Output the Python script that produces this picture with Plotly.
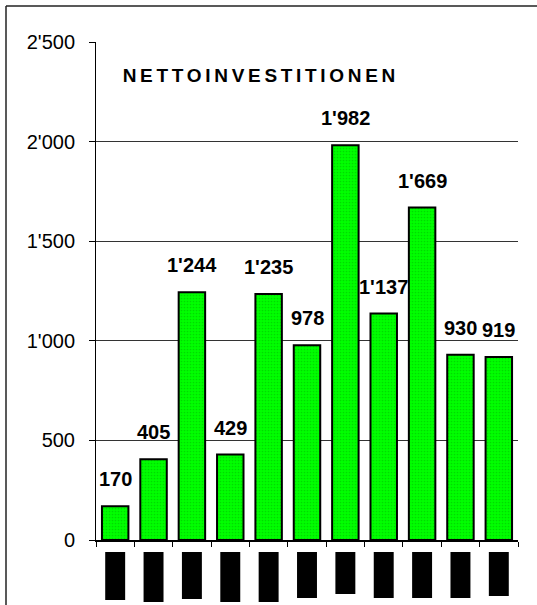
import plotly.graph_objects as go

# ---- data ----
categories = ["K1", "K2", "K3", "K4", "K5", "K6", "K7", "K8", "K9", "K10", "K11"]
values = [170, 405, 1244, 429, 1235, 978, 1982, 1137, 1669, 930, 919]
tick_values = [0, 500, 1000, 1500, 2000, 2500]
tick_labels = ["0", "500", "1'000", "1'500", "2'000", "2'500"]
title_text = "NETTOINVESTITIONEN"

# ---- layout geometry (pixels) ----
W, H = 537, 605
L, R, T, B = 96, 19, 42, 65
plot_w = W - L - R
plot_h = H - T - B
# redaction blocks below the category axis (bottom edge in px)
redaction_bottom_px = [600, 602, 599, 602, 602, 598, 594, 598, 598, 598, 596]
redaction_top_px = 552

def py_to_paper(py):
    return (H - B - py) / plot_h

def px_to_paper(px):
    return (px - L) / plot_w

def fmt(v):
    return f"{v:,}".replace(",", "'")

fig = go.Figure()
fig.add_trace(go.Bar(
    x=categories, y=values,
    marker=dict(
        color="#00F000",
        line=dict(color="black", width=2),
        pattern=dict(shape=".", fgcolor="#00B800", bgcolor="#00FF00", size=3, solidity=0.25),
    ),
    hoverinfo="skip",
))

annotations = []
for i, v in enumerate(values):
    annotations.append(dict(
        x=i, y=v, text=fmt(v), showarrow=False, xanchor="center", yanchor="bottom",
        yshift=14, font=dict(family="Liberation Sans, Arial", size=20, color="black", weight="bold"),
    ))
annotations.append(dict(
    x=px_to_paper(261), y=py_to_paper(75), xref="paper", yref="paper",
    text=title_text, showarrow=False, xanchor="center", yanchor="middle",
    font=dict(family="Liberation Sans, Arial", size=19, color="black", weight="bold"),
))

shapes = []
for i, bot in enumerate(redaction_bottom_px):
    shapes.append(dict(
        type="rect", xref="x", yref="paper",
        x0=i - 0.26, x1=i + 0.26,
        y0=py_to_paper(bot), y1=py_to_paper(redaction_top_px),
        fillcolor="black", line=dict(width=0), layer="above",
    ))
# outer frame (top and left edges visible)
shapes.append(dict(type="line", xref="paper", yref="paper",
                   x0=px_to_paper(6), x1=px_to_paper(540), y0=py_to_paper(6), y1=py_to_paper(6),
                   line=dict(color="#222", width=1.5)))
shapes.append(dict(type="line", xref="paper", yref="paper",
                   x0=px_to_paper(6), x1=px_to_paper(6), y0=py_to_paper(6), y1=py_to_paper(610),
                   line=dict(color="#222", width=1.5)))

fig.update_layout(
    width=W, height=H,
    margin=dict(l=L, r=R, t=T, b=B, pad=0),
    paper_bgcolor="white", plot_bgcolor="white",
    bargap=0.31,
    showlegend=False,
    annotations=annotations,
    shapes=shapes,
    font=dict(family="Liberation Sans, Arial", color="black"),
)
fig.update_yaxes(
    range=[0, 2500], tickvals=tick_values, ticktext=tick_labels,
    ticks="outside", ticklen=6, tickcolor="black", tickwidth=1,
    showgrid=True, gridcolor="#333", gridwidth=1,
    showline=True, linecolor="black", linewidth=1,
    zeroline=False, ticklabelstandoff=10,
    tickfont=dict(size=20, family="Liberation Sans, Arial", color="black"),
)
fig.update_xaxes(
    type="category", range=[-0.5, len(categories) - 0.5], showticklabels=False,
    ticks="outside", ticklen=5, tickcolor="black", tickwidth=1, tickson="boundaries",
    showline=True, linecolor="black", linewidth=2, showgrid=False,
)

post_script = (
    "document.body.style.margin='0';document.body.style.overflow='hidden';"
    "document.documentElement.style.overflow='hidden';"
    "document.querySelectorAll('text.annotation-text').forEach(function(t){"
    "if(t.textContent==='NETTOINVESTITIONEN'){t.style.letterSpacing='3.7px';}});"
)
fig.write_html("out.html", post_script=post_script, config={"displayModeBar": False})
